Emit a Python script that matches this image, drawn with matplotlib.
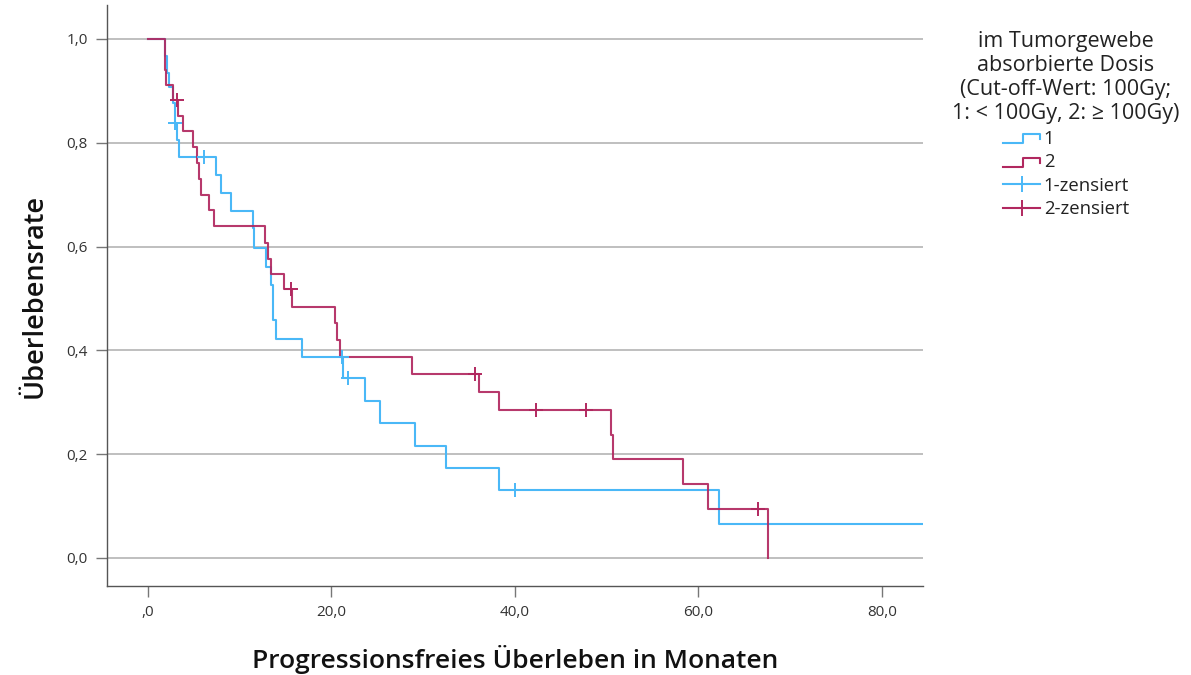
import matplotlib
matplotlib.use("Agg")
import matplotlib.pyplot as plt
from matplotlib.lines import Line2D
from matplotlib.legend_handler import HandlerBase
from matplotlib.ticker import FuncFormatter

# Kaplan-Meier step points (time in months, survival after the step)
blue_t = [0, 1.85, 2.05, 2.3, 2.7, 2.95, 3.2, 3.4, 7.4, 8.0, 9.1, 11.4, 11.6,
          12.9, 13.4, 13.6, 13.65, 14.0, 16.8, 21.3, 23.7, 25.3, 29.1, 32.5,
          38.3, 62.3, 90.0]
blue_s = [1.0, 0.967, 0.935, 0.908, 0.876, 0.839, 0.805, 0.772, 0.737, 0.703,
          0.669, 0.635, 0.598, 0.561, 0.526, 0.492, 0.459, 0.421, 0.387, 0.346,
          0.303, 0.260, 0.216, 0.174, 0.131, 0.066, 0.066]
blue_cens_t = [2.95, 6.1, 21.1, 21.8, 40.0]
blue_cens_s = [0.839, 0.772, 0.387, 0.346, 0.131]

red_t = [0, 1.8, 2.0, 2.7, 3.3, 3.8, 4.9, 5.3, 5.6, 5.75, 6.6, 7.2, 12.8,
         13.05, 13.4, 14.8, 15.7, 20.4, 20.6, 20.9, 28.8, 36.1, 38.3, 50.45,
         50.75, 58.3, 61.1, 67.6]
red_s = [1.0, 0.941, 0.912, 0.882, 0.852, 0.822, 0.792, 0.762, 0.731, 0.700,
         0.670, 0.640, 0.607, 0.577, 0.548, 0.518, 0.484, 0.452, 0.420, 0.388,
         0.355, 0.320, 0.285, 0.237, 0.190, 0.143, 0.095, 0.0]
red_cens_t = [3.2, 15.6, 35.7, 42.3, 47.8, 66.5]
red_cens_s = [0.882, 0.518, 0.355, 0.285, 0.285, 0.095]

x_ticks = [0, 20, 40, 60, 80]
y_ticks = [0.0, 0.2, 0.4, 0.6, 0.8, 1.0]

legend_title = ("im Tumorgewebe\nabsorbierte Dosis\n(Cut-off-Wert: 100Gy;\n"
                "1: < 100Gy, 2: \u2265 100Gy)")
group_labels = ["1", "2", "1-zensiert", "2-zensiert"]

BLUE = "#4ab8f7"
RED = "#b1285f"
FONT = "Open Sans"


class StepHandler(HandlerBase):
    # little step icon like SPSS uses for the survival lines
    def create_artists(self, legend, orig_handle, xdescent, ydescent,
                       width, height, fontsize, trans):
        x0, y0 = -xdescent, -ydescent
        xs = [x0, x0 + 0.55 * width, x0 + 0.55 * width, x0 + width, x0 + width]
        ys = [y0 + 0.05 * height, y0 + 0.05 * height, y0 + 0.75 * height,
              y0 + 0.75 * height, y0 + 0.35 * height]
        line = Line2D(xs, ys, color=orig_handle.get_color(),
                      lw=orig_handle.get_linewidth())
        line.set_transform(trans)
        return [line]


def x_fmt(v, pos):
    s = ("%.1f" % v).replace(".", ",")
    return s[1:] if v == 0 else s


plt.rcParams["font.family"] = [FONT, "DejaVu Sans"]

fig = plt.figure(figsize=(11.91, 6.75), dpi=100)
ax = fig.add_axes([107 / 1191, 1 - 586 / 675, 816 / 1191, 581 / 675])

ax.step(blue_t, blue_s, where="post", color=BLUE, lw=1.5)
ax.step(red_t, red_s, where="post", color=RED, lw=1.5, alpha=0.92)
ax.plot(blue_cens_t, blue_cens_s, ls="none", marker="+", ms=10, mew=1.4,
        color=BLUE)
ax.plot(red_cens_t, red_cens_s, ls="none", marker="+", ms=10, mew=1.4,
        color=RED)

ax.set_xlim(-4.47, 84.5)
ax.set_ylim(-0.054, 1.0655)
ax.set_xticks(x_ticks)
ax.set_yticks(y_ticks)
ax.xaxis.set_major_formatter(FuncFormatter(x_fmt))
ax.yaxis.set_major_formatter(FuncFormatter(lambda v, p: ("%.1f" % v).replace(".", ",")))

ax.grid(axis="y", color="#b4b4b4", lw=1.2)
ax.set_axisbelow(True)
for side in ["top", "right"]:
    ax.spines[side].set_visible(False)
for side in ["left", "bottom"]:
    ax.spines[side].set_color("#555555")
    ax.spines[side].set_linewidth(1.0)
ax.tick_params(axis="both", colors="#777777", length=8, width=1.0,
               labelcolor="#333333", labelsize=11, pad=6)

ax.set_xlabel("Progressionsfreies \u00dcberleben in Monaten", fontsize=19,
              fontweight="semibold", color="#111111")
ax.set_ylabel("\u00dcberlebensrate", fontsize=19.5, fontweight="semibold",
              color="#111111")
ax.xaxis.set_label_coords(0.5, (586 - 660) / 581)
ax.xaxis.label.set_va("center")
ax.yaxis.set_label_coords((35 - 107) / 816, 0.5)
ax.yaxis.label.set_va("center")

handles = [Line2D([], [], color=BLUE, lw=1.5),
           Line2D([], [], color=RED, lw=1.5),
           Line2D([], [], color=BLUE, lw=1.5, marker="+", ms=12, mew=1.4),
           Line2D([], [], color=RED, lw=1.5, marker="+", ms=12, mew=1.4)]
leg = fig.legend(handles, group_labels, title=legend_title,
                 loc="upper center", bbox_to_anchor=(1066 / 1191, 1 - 14 / 675),
                 frameon=False, fontsize=13.3, title_fontsize=15.5,
                 handlelength=2.0, handletextpad=0.2, labelspacing=0.3,
                 handler_map={handles[0]: StepHandler(),
                              handles[1]: StepHandler()})
leg.get_title().set_multialignment("center")
leg.get_title().set_color("#222222")
for txt in leg.get_texts():
    txt.set_color("#222222")

fig.savefig("out.png", dpi=100)
